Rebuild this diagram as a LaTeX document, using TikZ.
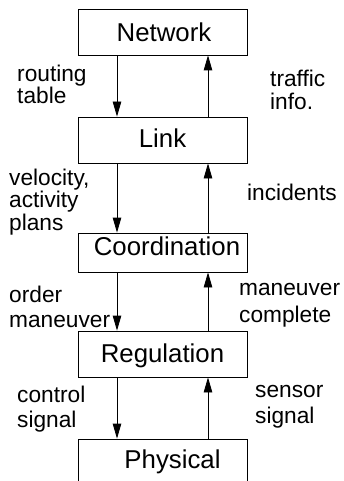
\documentclass[tikz,border=0pt]{standalone}
\usepackage{fontspec}
\setmainfont{Liberation Sans}
\usetikzlibrary{arrows.meta}
\begin{document}
\begin{tikzpicture}[x=1pt,y=-1pt,
  box/.style={draw, line width=0.8pt, minimum width=169pt, minimum height=46pt,
    inner sep=0pt, font=\fontsize{25.8}{30}\selectfont},
  lbl/.style={inner sep=0pt, anchor=base west, align=left},
  flow/.style={line width=0.8pt, -{Triangle[length=15pt,width=8.5pt]}}]
\useasboundingbox (0,0) rectangle (344,481);
\clip (0,0) rectangle (344,481);

% the five layers
\node[box, text height=20pt, text depth=0pt]  (net)  at (162.5,32)  {\hspace*{3pt}Network};
\node[box, text height=18pt, text depth=4pt]  (link) at (162.5,140) {Link};
\node[box, minimum height=39pt, text height=18pt, text depth=13pt] (coord) at (162.5,252.5) {\hspace*{9pt}Coordination};
\node[box, text height=18pt, text depth=2pt]  (reg)  at (162.5,354) {Regulation};
\node[box, text height=18pt, text depth=6pt]  (phys) at (162.5,462) {\hspace*{20pt}Physical};

% commands going down, feedback going up
\foreach \a/\b in {net/link, link/coord, coord/reg, reg/phys}{
  \draw[flow] ([xshift=-45.5pt]\a.south) -- ([xshift=-45.5pt]\b.north);
  \draw[flow] ([xshift=45.5pt]\b.north) -- ([xshift=45.5pt]\a.south);
}

% labels (placed at the baseline of their last line)
\node[lbl, font=\fontsize{22.7}{22}\selectfont]   (l1) at (17,104)  {routing\\table};
\node[lbl, font=\fontsize{22.7}{23}\selectfont]   (r1) at (270,110) {traffic\\info.};
\node[lbl, font=\fontsize{22.7}{22.5}\selectfont] (l2) at (9,230)   {velocity,\\activity\\plans};
\node[lbl, font=\fontsize{22.7}{23}\selectfont]   (r2) at (247,200) {incidents};
\node[lbl, font=\fontsize{22.7}{25}\selectfont]   (l3) at (9,327)   {order\\maneuver};
\node[lbl, font=\fontsize{22.7}{27}\selectfont]   (r3) at (239,322) {maneuver\\complete};
\node[lbl, font=\fontsize{22.7}{25}\selectfont]   (l4) at (17,427)  {control\\signal};
\node[lbl, font=\fontsize{22.7}{26}\selectfont]   (r4) at (255,423) {sensor\\signal};
\end{tikzpicture}
\end{document}
